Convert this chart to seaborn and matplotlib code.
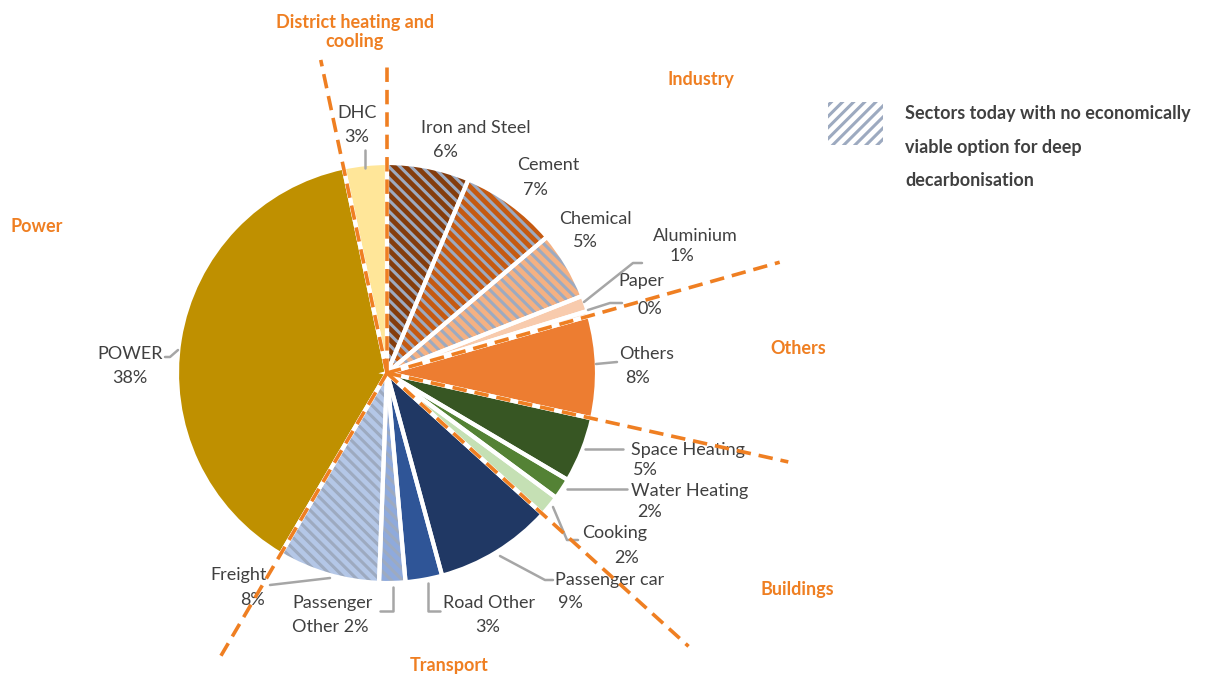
import matplotlib
matplotlib.use("Agg")
import matplotlib.pyplot as plt
from matplotlib.patches import Rectangle
import numpy as np
import seaborn as sns

# --- dados (ordem horaria a partir do topo) ---
setores = ["Iron and Steel", "Cement", "Chemical", "Aluminium", "Paper", "Others",
           "Space Heating", "Water Heating", "Cooking", "Passenger car", "Road Other",
           "Passenger Other", "Freight", "POWER", "DHC"]
participacao = [6.3, 7.4, 5.2, 1.2, 0.4, 7.8, 5.0, 1.6, 1.6, 9.0, 2.8, 2.0, 7.8, 38.0, 3.3]
grupos = ["Industry"] * 5 + ["Others"] + ["Buildings"] * 3 + ["Transport"] * 4 + \
         ["Power", "District heating and\ncooling"]
sem_opcao = [True, True, True, False, False, False, False, False, False,
             False, False, True, True, False, False]
legenda_texto = ["Sectors today with no economically", "viable option for deep",
                 "decarbonisation"]

cores = ["#843C0C", "#C55A11", "#F4B183", "#F8CBAD", "#FBE5D6", "#ED7D31",
         "#375623", "#548235", "#C5E0B4", "#203864", "#2F5597",
         "#8FAADC", "#B4C7E7", "#BF9000", "#FFE699"]

sns.set_theme(style="white")
plt.rcParams["font.family"] = ["Lato", "DejaVu Sans"]
plt.rcParams["hatch.linewidth"] = 2.2

LARANJA = "#EF7F22"
CINZA_TXT = "#404040"
CINZA_LINHA = "#A6A6A6"
COR_HACHURA = "#9DAAC0"

W, H = 1205, 675
CENTRO = (387, 373)
RAIO = 210

fig = plt.figure(figsize=(W / 100, H / 100), dpi=100)
ax = fig.add_axes([0, 0, 1, 1])

# fatias (eixo y invertido -> startangle=-90 e counterclock=True desenham no sentido horario a partir do topo)
fatias, _ = ax.pie(participacao, colors=cores, startangle=-90, counterclock=True,
                   radius=RAIO, center=CENTRO, wedgeprops=dict(linewidth=0))
for w, h in zip(fatias, sem_opcao):
    if h:
        w.set_edgecolor(COR_HACHURA)
        w.set_linewidth(0)
        w.set_hatch("\\\\\\")
# bordas brancas por cima
ax.pie(participacao, colors=["none"] * len(participacao), startangle=-90, counterclock=True,
       radius=RAIO, center=CENTRO, wedgeprops=dict(edgecolor="white", linewidth=3))

ax.set_xlim(0, W)
ax.set_ylim(H, 0)
ax.set_aspect("equal")
ax.axis("off")

# --- linhas tracejadas entre grupos ---
alcance = [308, 408, 411, 407, 332, 320]
k = 0
for i in range(len(setores)):
    if grupos[i] != grupos[i - 1]:
        t = np.deg2rad(fatias[i].theta1)
        L = alcance[k]
        k += 1
        ax.plot([CENTRO[0], CENTRO[0] + L * np.cos(t)], [CENTRO[1], CENTRO[1] + L * np.sin(t)],
                color=LARANJA, lw=2.6, dashes=(4, 2.2), solid_capstyle="butt", zorder=5)

# --- rotulos das fatias ---
pos_rotulos = {
    "Iron and Steel": ((476, 128, "center"), (445, 152, "center")),
    "Cement": ((548, 165, "center"), (535, 190, "center")),
    "Chemical": ((595, 219, "center"), (585, 242, "center")),
    "Aluminium": ((695, 236, "center"), (682, 256, "center")),
    "Paper": ((641, 281, "center"), (650, 309, "center")),
    "Others": ((647, 354, "center"), (638, 378, "center")),
    "Space Heating": ((688, 450, "center"), (645, 470, "center")),
    "Water Heating": ((690, 491, "center"), (650, 512, "center")),
    "Cooking": ((615, 533, "center"), (627, 558, "center")),
    "Passenger car": ((610, 580, "center"), (570, 603, "center")),
    "Road Other": ((443, 603, "left"), (488, 627, "center")),
    "Passenger Other": ((292, 603, "left"), (292, 627, "left")),
    "Freight": ((267, 575, "right"), (265, 600, "right")),
    "POWER": ((130, 354, "center"), (130, 378, "center")),
    "DHC": ((357, 113, "center"), (357, 137, "center")),
}
linhas_guia = {
    "Aluminium": [(584, 302), (633, 263), (642, 263)],
    "Paper": [(588, 310), (610, 303), (622, 303)],
    "Others": [(596, 364), (617, 362)],
    "Space Heating": [(585, 449), (623, 449)],
    "Water Heating": [(567, 489), (627, 489)],
    "Cooking": [(553, 507), (567, 540), (578, 540)],
    "Passenger car": [(500, 556), (545, 580), (553, 580)],
    "Road Other": [(428, 583), (428, 611), (440, 611)],
    "Passenger Other": [(393, 587), (393, 611), (380, 611)],
    "Freight": [(330, 578), (270, 585)],
    "POWER": [(178, 350), (170, 357), (165, 357)],
    "DHC": [(365, 168), (365, 150)],
}

for nome, v in zip(setores, participacao):
    pct = f"{round(v)}%"
    l1, l2 = nome, pct
    if nome == "Passenger Other":
        l1, l2 = "Passenger", f"Other {pct}"
    (x1, y1, a1), (x2, y2, a2) = pos_rotulos[nome]
    ax.text(x1, y1, l1, ha=a1, va="center", fontsize=13, color=CINZA_TXT)
    ax.text(x2, y2, l2, ha=a2, va="center", fontsize=13, color=CINZA_TXT)
    if nome in linhas_guia:
        xs, ys = zip(*linhas_guia[nome])
        ax.plot(xs, ys, color=CINZA_LINHA, lw=1.8, zorder=4)

# --- nomes dos grupos ---
pos_grupos = {
    "District heating and\ncooling": (355, 32),
    "Industry": (701, 80),
    "Power": (37, 226),
    "Others": (798, 348),
    "Buildings": (797, 589),
    "Transport": (449, 665),
}
for g, (x, y) in pos_grupos.items():
    ax.text(x, y, g, ha="center", va="center", fontsize=13, fontweight="bold",
            color=LARANJA, linespacing=1.2)

# --- legenda ---
ax.add_patch(Rectangle((828, 102), 55, 43, facecolor="white", edgecolor=COR_HACHURA,
                       linewidth=0, hatch="///"))
for j, t in enumerate(legenda_texto):
    ax.text(905, 113 + 34 * j, t, ha="left", va="center", fontsize=13,
            fontweight="bold", color=CINZA_TXT)

plt.savefig("out.png", dpi=100)
